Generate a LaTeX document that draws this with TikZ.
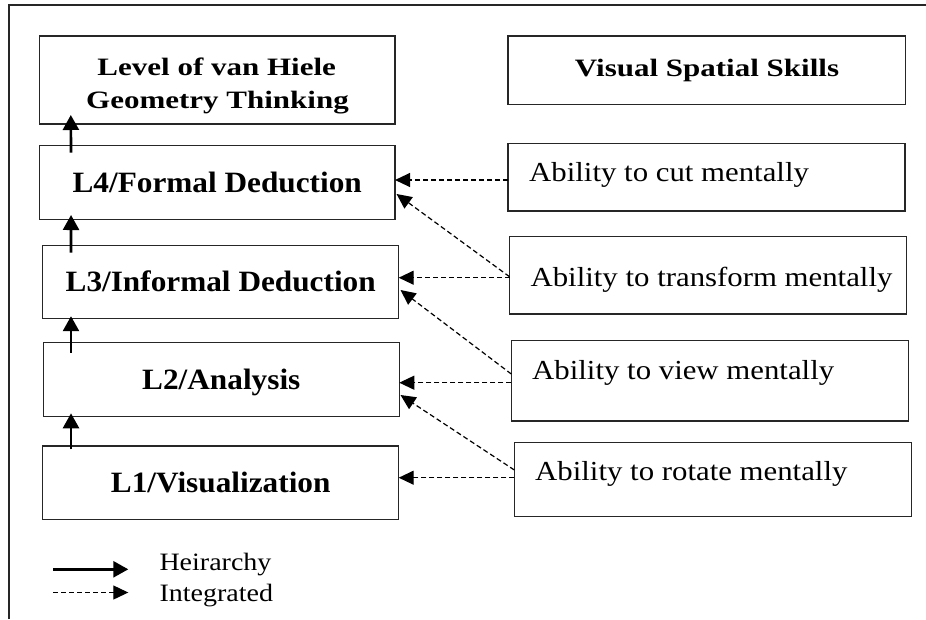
\documentclass[tikz,border=0pt]{standalone}
\usepackage{fontspec}
\setmainfont{Liberation Serif}[FakeStretch=1.12]
\newfontfamily\titlefont{Liberation Serif}[FakeStretch=1.24]
\newfontfamily\levelfont{Liberation Serif}[FakeStretch=1.06]
\usetikzlibrary{arrows.meta}
\begin{document}
\begin{tikzpicture}[x=1pt,y=-1pt,
  box/.style={draw=black!85, line width=1.3pt, inner sep=0pt, outer sep=0pt, rectangle},
  lvl/.style={box, font={\fontsize{29.5}{29.5}\selectfont\levelfont\bfseries}, text height=19.9pt, text depth=0pt},
  ttl/.style={font={\fontsize{25}{25}\selectfont\titlefont\bfseries}, inner sep=0pt, anchor=base},
  abil/.style={font={\fontsize{27.5}{27.5}\selectfont}, anchor=base west, inner sep=0pt},
  legt/.style={font={\fontsize{25}{25}\selectfont}, anchor=base west, inner sep=0pt},
  hier/.style={line width=2.6pt, -{Triangle[length=15pt,width=16pt]}},
  integ/.style={line width=1.2pt, dash pattern=on 5pt off 3pt, -{Triangle[length=15pt,width=14pt]}}
]
\useasboundingbox (0,0) rectangle (926,619);

% frame
\coordinate (ftl) at (9,5);
\coordinate (ftr) at (926,5);
\coordinate (fbl) at (9,619);
\draw[line width=1.3pt, black!85] (fbl) -- (ftl) -- (ftr);

% headers
\node[box, minimum width=355.6pt, minimum height=88pt] (lvlbox) at (217.2,80) {};
\node[ttl] (lvl1) at (216.7,75) {Level of van Hiele};
\node[ttl] (lvl2) at (217.5,108.3) {Geometry Thinking};
\node[box, minimum width=397.5pt, minimum height=68.3pt] (vssbox) at (706.8,70.2) {};
\node[ttl] (vss) at (707,76.7) {Visual Spatial Skills};

% levels
\node[lvl, minimum width=355.7pt, minimum height=73.6pt] (L4) at (217.2,182.5) {L4/Formal Deduction};
\node[lvl, minimum width=356pt, minimum height=73.4pt] (L3) at (220.7,282) {L3/Informal Deduction};
\node[lvl, minimum width=356pt, minimum height=74pt] (L2) at (221.3,379.7) {L2/Analysis};
\node[lvl, minimum width=356pt, minimum height=73.3pt] (L1) at (220.7,482.7) {L1/Visualization};

% abilities
\node[box, minimum width=397pt, minimum height=67.7pt] (cut) at (706.5,177.2) {};
\node[abil] (cutt) at (529,181.7) {Ability to cut mentally};
\node[box, minimum width=397pt, minimum height=77.3pt] (trf) at (708,275.4) {};
\node[abil] (trft) at (530.4,286.7) {Ability to transform mentally};
\node[box, minimum width=397.2pt, minimum height=80.3pt] (view) at (709.9,380.9) {};
\node[abil] (viewt) at (532,379.3) {Ability to view mentally};
\node[box, minimum width=397.3pt, minimum height=74.4pt] (rot) at (713,479.5) {};
\node[abil] (rott) at (535,480.7) {Ability to rotate mentally};

% hierarchy arrows
\draw[hier] ([xshift=31.7pt,yshift=-7pt]L4.north west) -- ([xshift=31.4pt,yshift=9pt]lvlbox.south west);
\draw[hier] ([xshift=28.3pt,yshift=-7.4pt]L3.north west) -- ([xshift=31.7pt,yshift=4.3pt]L4.south west);
\draw[hier] ([xshift=27.7pt,yshift=-10pt]L2.north west) -- ([xshift=28.3pt,yshift=2.5pt]L3.south west);
\draw[hier] ([xshift=28.3pt,yshift=-3.3pt]L1.north west) -- ([xshift=27.7pt,yshift=3.4pt]L2.south west);

% integrated arrows
\draw[integ] ([yshift=-2.8pt]cut.west) -- ([yshift=2.5pt]L4.east);
\draw[integ] ([yshift=-1.3pt]trf.west) -- ([xshift=1.5pt,yshift=-11.5pt]L4.east);
\draw[integ] ([yshift=-2.3pt]trf.west) -- ([yshift=4.3pt]L3.east);
\draw[integ] ([yshift=6.9pt]view.west) -- ([xshift=1.8pt,yshift=-8pt]L3.east);
\draw[integ] ([yshift=-1.8pt]view.west) -- ([yshift=-3pt]L2.east);
\draw[integ] ([yshift=9.5pt]rot.west) -- ([xshift=1.2pt,yshift=-15.3pt]L2.east);
\draw[integ] ([yshift=1.8pt]rot.west) -- ([yshift=5pt]L1.east);

% legend
\coordinate (hs) at (53,569.3);
\coordinate (he) at (128.3,569.3);
\draw[hier] (hs) -- (he);
\coordinate (is) at (53,592.5);
\coordinate (ie) at (128.3,592.5);
\draw[integ] (is) -- (ie);
\node[legt] (hl) at (159.3,570) {Heirarchy};
\node[legt] (il) at (159.3,601.7) {Integrated};
\end{tikzpicture}
\end{document}
